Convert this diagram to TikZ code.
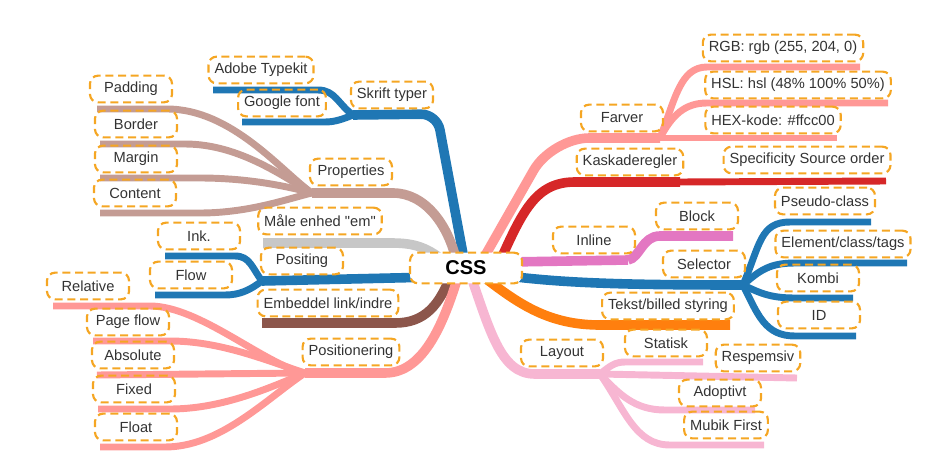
\documentclass[tikz,border=0pt]{standalone}
\usepackage{fontspec}
\setmainfont{Liberation Sans}
\usetikzlibrary{backgrounds, calc}

\definecolor{box_orange}{HTML}{F5A623}
\definecolor{c_blue}{HTML}{1F77B4}
\definecolor{c_rosy}{HTML}{C49C94}
\definecolor{c_gray}{HTML}{C7C7C7}
\definecolor{c_brown}{HTML}{8C564B}
\definecolor{c_salmon}{HTML}{FF9896}
\definecolor{c_red}{HTML}{D62728}
\definecolor{c_pink}{HTML}{E377C2}
\definecolor{c_orange}{HTML}{FF7F0E}
\definecolor{c_light}{HTML}{F7B6D2}
\definecolor{c_text}{HTML}{333333}

\begin{document}
\begin{tikzpicture}[
        x=0.75pt, y=-0.75pt,
        label_box/.style={rectangle, draw=box_orange, line width=1.6pt, dash pattern=on 6pt off 3.5pt, rounded corners=6pt, minimum width=61.5pt, minimum height=20pt, inner xsep=4.5pt, align=center, font=\fontsize{11}{13}\selectfont, text=c_text},
        root_box/.style={label_box, fill=white, minimum width=84pt, minimum height=23pt, font=\fontsize{15}{17}\selectfont\bfseries, text=black},
        main/.style={line width=7.2pt},
        sub/.style={line width=5.2pt}
    ]
        \useasboundingbox (0,0) rectangle (932,475);

        % Center
        \node[root_box] (css) at (466,268) {CSS};

        % Left labels
        \node[label_box] (skrift) at (392,95) {Skrift typer};
        \node[label_box] (adobe) at (261,70) {Adobe Typekit};
        \node[label_box] (google) at (282,103) {Google font};
        \node[label_box] (properties) at (351,172) {Properties};
        \node[label_box] (padding) at (131,89) {Padding};
        \node[label_box] (border) at (136,124) {Border};
        \node[label_box] (margin) at (136,159) {Margin};
        \node[label_box] (content) at (135,193) {Content};
        \node[label_box] (maale) at (320,221) {Måle enhed \textquotedbl em\textquotedbl};
        \node[label_box] (positing) at (302,261) {Positing};
        \node[label_box] (ink) at (199,236) {Ink.};
        \node[label_box] (flow) at (191,275) {Flow};
        \node[label_box] (embeddel) at (328,303) {Embeddel link/indre};
        \node[label_box] (positionering) at (351,352) {Positionering};
        \node[label_box] (relative) at (88,286) {Relative};
        \node[label_box] (pageflow) at (128,322) {Page flow};
        \node[label_box] (absolute) at (133,355) {Absolute};
        \node[label_box] (fixed) at (134,389) {Fixed};
        \node[label_box] (float) at (136,427) {Float};

        % Right labels
        \node[label_box] (farver) at (622,118) {Farver};
        \node[label_box] (rgb) at (783,48) {RGB: rgb (255, 204, 0)};
        \node[label_box] (hsl) at (798,85) {HSL: hsl (48\% 100\% 50\%)};
        \node[label_box] (hex) at (773,120) {HEX-kode: \#ffcc00};
        \node[label_box] (kaskade) at (630,162) {Kaskaderegler};
        \node[label_box] (specificity) at (807,160) {Specificity Source order};
        \node[label_box] (inline) at (594,240) {Inline};
        \node[label_box] (block) at (697,216) {Block};
        \node[label_box] (selector) at (704,264) {Selector};
        \node[label_box] (pseudo) at (825,201) {Pseudo-class};
        \node[label_box] (element) at (843,244) {Element/class/tags};
        \node[label_box] (kombi) at (818,278) {Kombi};
        \node[label_box] (id) at (819,315) {ID};
        \node[label_box] (tekst) at (668,306) {Tekst/billed styring};
        \node[label_box] (layout) at (562,353) {Layout};
        \node[label_box] (statisk) at (666,343) {Statisk};
        \node[label_box] (respemsiv) at (758,358) {Respemsiv};
        \node[label_box] (adoptivt) at (720,393) {Adoptivt};
        \node[label_box] (mubik) at (726,425) {Mubik First};

        % Junctions and line ends
        \coordinate (j_skrift) at (353,115);
        \coordinate (e_adobe) at (213,90);
        \coordinate (e_google) at (242,122);
        \coordinate (j_props) at (312,193);
        \coordinate (e_padding) at (97,109);
        \coordinate (e_border) at (100,144);
        \coordinate (e_margin) at (100,178);
        \coordinate (e_content) at (100,213);
        \coordinate (e_maale) at (263,243);
        \coordinate (j_positing) at (262,281);
        \coordinate (e_ink) at (165,256);
        \coordinate (e_flow) at (155,295);
        \coordinate (e_embeddel) at (262,323);
        \coordinate (j_pos) at (305,373);
        \coordinate (e_relative) at (53,306);
        \coordinate (e_pageflow) at (93,341);
        \coordinate (e_absolute) at (97,375);
        \coordinate (e_fixed) at (98,409);
        \coordinate (e_float) at (100,447);
        \coordinate (j_farver) at (660,138);
        \coordinate (e_rgb) at (860,67);
        \coordinate (e_hsl) at (888,103);
        \coordinate (e_hex) at (837,138);
        \coordinate (j_kaskade) at (680,182);
        \coordinate (e_specificity) at (886,181);
        \coordinate (j_inline) at (628,260);
        \coordinate (e_block) at (733,236);
        \coordinate (j_selector) at (743,285);
        \coordinate (e_pseudo) at (871,222);
        \coordinate (e_element) at (907,263);
        \coordinate (e_kombi) at (853,298);
        \coordinate (e_id) at (856,336);
        \coordinate (e_tekst) at (730,325);
        \coordinate (j_layout) at (600,374);
        \coordinate (e_statisk) at (703,362);
        \coordinate (e_respemsiv) at (797,378);
        \coordinate (e_adoptivt) at (755,410);
        \coordinate (e_mubik) at (764,445);

        \begin{scope}[on background layer]
        % Skrift typer
        \draw[main, c_blue, rounded corners=12] ($(css)+(0,2)$) -- (437,114) -- (j_skrift);
        \draw[sub, c_blue] (j_skrift) .. controls (338,104) and (335,90) .. (318,90) -- (e_adobe);
        \draw[sub, c_blue] (j_skrift) .. controls (343,119) and (335,122) .. (325,122) -- (e_google);

        % Properties
        \draw[main, c_rosy] ($(css)+(-8,0)$) .. controls (450,225) and (425,193) .. (393,193) -- (j_props);
        \draw[sub, c_rosy] (j_props) .. controls (282,172) and (232,109) .. (167,109) -- (e_padding);
        \draw[sub, c_rosy] (j_props) .. controls (285,178) and (240,144) .. (185,144) -- (e_border);
        \draw[sub, c_rosy] (j_props) .. controls (290,187) and (250,178) .. (200,178) -- (e_margin);
        \draw[sub, c_rosy] (j_props) .. controls (290,198) and (250,213) .. (200,213) -- (e_content);

        % Maale enhed
        \draw[main, c_gray] ($(css)+(-21,-6)$) .. controls (425,245) and (410,243) .. (390,243) -- (e_maale);

        % Positing
        \draw[main, c_blue] ($(css)+(-30,9)$) -- (j_positing);
        \draw[sub, c_blue] (j_positing) .. controls (252,268) and (250,256) .. (235,256) -- (e_ink);
        \draw[sub, c_blue] (j_positing) .. controls (250,290) and (240,295) .. (225,295) -- (e_flow);

        % Embeddel
        \draw[main, c_brown] ($(css)+(-14,4)$) .. controls (440,305) and (425,323) .. (395,323) -- (e_embeddel);

        % Positionering
        \draw[main, c_salmon] ($(css)+(-6,2)$) .. controls (445,320) and (425,373) .. (385,373) -- (j_pos);
        \draw[sub, c_salmon] (j_pos) .. controls (265,365) and (200,306) .. (150,306) -- (e_relative);
        \draw[sub, c_salmon] (j_pos) .. controls (265,360) and (220,341) .. (170,341) -- (e_pageflow);
        \draw[sub, c_salmon] (j_pos) -- (e_absolute);
        \draw[sub, c_salmon] (j_pos) .. controls (265,390) and (220,409) .. (170,409) -- (e_fixed);
        \draw[sub, c_salmon] (j_pos) .. controls (265,400) and (220,447) .. (165,447) -- (e_float);

        % Farver
        \draw[main, c_salmon, rounded corners=28] ($(css)+(12,0)$) -- (552,138) -- (j_farver);
        \draw[sub, c_salmon] (j_farver) .. controls (675,100) and (680,67) .. (707,67) -- (e_rgb);
        \draw[sub, c_salmon] (j_farver) .. controls (672,115) and (685,103) .. (707,103) -- (e_hsl);
        \draw[sub, c_salmon] (j_farver) -- (e_hex);

        % Kaskaderegler
        \draw[main, c_red] ($(css)+(31,0)$) .. controls (522,212) and (535,182) .. (575,182) -- (j_kaskade);
        \draw[sub, c_red] (j_kaskade) -- (e_specificity);

        % Inline
        \draw[main, c_pink] ($(css)+(44,-6)$) -- (j_inline);
        \draw[main, c_pink] (j_inline) .. controls (640,258) and (642,236) .. (660,236) -- (e_block);

        % Selector
        \draw[main, c_blue] ($(css)+(34,7)$) .. controls (560,283) and (620,285) .. (j_selector);
        \draw[sub, c_blue] (j_selector) .. controls (760,245) and (760,222) .. (790,222) -- (e_pseudo);
        \draw[sub, c_blue] (j_selector) .. controls (760,270) and (770,263) .. (795,263) -- (e_element);
        \draw[sub, c_blue] (j_selector) .. controls (760,293) and (770,298) .. (795,298) -- (e_kombi);
        \draw[sub, c_blue] (j_selector) .. controls (758,315) and (765,336) .. (795,336) -- (e_id);

        % Tekst/billed styring
        \draw[main, c_orange] ($(css)+(19,10)$) .. controls (520,305) and (550,325) .. (600,325) -- (e_tekst);

        % Layout
        \draw[main, c_light] ($(css)+(2,0)$) .. controls (490,330) and (500,374) .. (535,374) -- (j_layout);
        \draw[sub, c_light] (j_layout) .. controls (610,366) and (615,362) .. (625,362) -- (e_statisk);
        \draw[sub, c_light] (j_layout) -- (e_respemsiv);
        \draw[sub, c_light] (j_layout) .. controls (620,395) and (635,410) .. (665,410) -- (e_adoptivt);
        \draw[sub, c_light] (j_layout) .. controls (625,410) and (635,445) .. (670,445) -- (e_mubik);
        \end{scope}

    \end{tikzpicture}
\end{document}
